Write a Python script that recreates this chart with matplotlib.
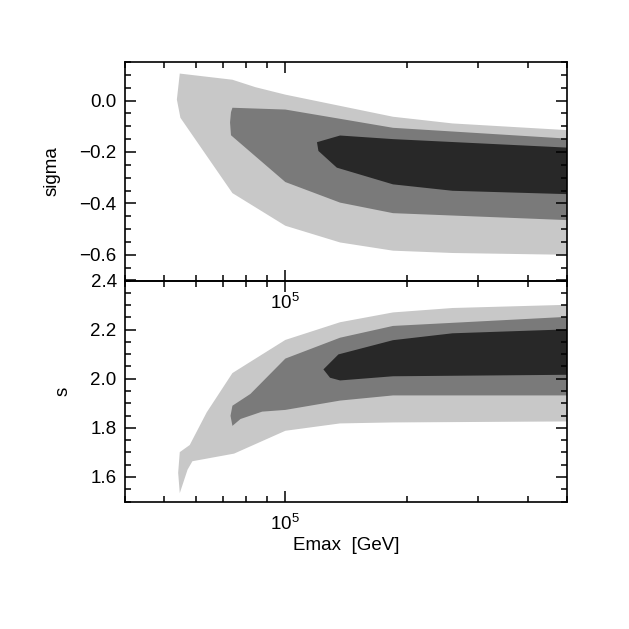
import matplotlib
matplotlib.use("Agg")
import matplotlib.pyplot as plt
from matplotlib.ticker import MultipleLocator, LogLocator, NullFormatter, FixedLocator, FixedFormatter

plt.rcParams['font.family'] = ['Liberation Sans', 'DejaVu Sans']
plt.rcParams['mathtext.fontset'] = 'custom'
plt.rcParams['mathtext.rm'] = 'Liberation Sans'
plt.rcParams['mathtext.it'] = 'Liberation Sans:italic'
plt.rcParams['mathtext.bf'] = 'Liberation Sans:bold'

# ---- data: contour polygons (Emax [GeV], value) ----
# top panel: sigma
sig_light_E = [54700, 73900, 84300, 100000, 185000, 260000, 500000,
               500000, 260000, 185000, 136700, 100000, 73900, 54900, 53800]
sig_light_v = [0.105, 0.081, 0.052, 0.023, -0.063, -0.089, -0.115,
               -0.600, -0.593, -0.584, -0.552, -0.487, -0.360, -0.067, 0.004]

sig_mid_E = [73900, 100000, 136700, 185000, 500000,
             500000, 185000, 136700, 100000, 73300, 72900, 73300]
sig_mid_v = [-0.028, -0.035, -0.071, -0.106, -0.148,
             -0.465, -0.438, -0.397, -0.317, -0.135, -0.085, -0.045]

sig_dark_E = [119800, 136700, 185000, 500000,
              500000, 260000, 185000, 134200, 120800]
sig_dark_v = [-0.162, -0.136, -0.150, -0.183,
              -0.364, -0.351, -0.326, -0.261, -0.196]

# bottom panel: s
s_light_E = [54700, 54200, 54700, 57900, 63800, 73900, 81900, 100000, 136700,
             185000, 260000, 500000, 500000, 185000, 136700, 100000, 74600,
             58800, 57200]
s_light_v = [1.534, 1.617, 1.701, 1.730, 1.863, 2.023, 2.069, 2.158, 2.230,
             2.270, 2.288, 2.301, 1.826, 1.822, 1.818, 1.788, 1.695,
             1.664, 1.630]

s_mid_E = [73900, 81900, 100000, 136700, 185000, 500000, 500000, 185000,
           136700, 100000, 87600, 77400, 73900, 73100]
s_mid_v = [1.890, 1.938, 2.082, 2.167, 2.215, 2.252, 1.932, 1.932,
           1.911, 1.873, 1.866, 1.836, 1.808, 1.849]

s_dark_E = [124300, 135400, 185000, 260000, 500000, 500000, 185000, 136700, 129100]
s_dark_v = [2.038, 2.099, 2.157, 2.185, 2.201, 2.016, 2.010, 1.993, 2.004]

colors = ['#c8c8c8', '#7a7a7a', '#282828']

xlim = (4.0e4, 5.0e5)
FS = 13.5

fig = plt.figure(figsize=(6.29, 6.29), dpi=100)
fig.patch.set_facecolor('white')

ax1 = fig.add_axes([125/629, 1-280.5/629, 442/629, 218.5/629])
ax2 = fig.add_axes([125/629, 1-501.5/629, 442/629, 221/629])
ax1.set_zorder(3)
ax1.patch.set_visible(False)

for ax, polys in [(ax1, [(sig_light_E, sig_light_v), (sig_mid_E, sig_mid_v), (sig_dark_E, sig_dark_v)]),
                  (ax2, [(s_light_E, s_light_v), (s_mid_E, s_mid_v), (s_dark_E, s_dark_v)])]:
    ax.set_xscale('log')
    for (E, v), c in zip(polys, colors):
        ax.fill(E, v, color=c, lw=0)
    ax.set_xlim(*xlim)
    ax.xaxis.set_major_locator(FixedLocator([1e5]))
    ax.xaxis.set_major_formatter(FixedFormatter([r'$10^5$']))
    ax.xaxis.set_minor_locator(LogLocator(base=10, subs=[2, 3, 4, 5, 6, 7, 8, 9]))
    ax.xaxis.set_minor_formatter(NullFormatter())
    ax.tick_params(which='both', direction='in', top=True, right=True,
                   labelsize=FS, width=1.1)
    ax.tick_params(axis='y', pad=6)
    ax.tick_params(axis='x', pad=9)
    ax.tick_params(which='major', length=8)
    ax.tick_params(which='minor', length=4.5)
    ax.tick_params(axis='x', which='minor', length=4)
    for sp in ax.spines.values():
        sp.set_linewidth(1.2)

ax1.set_ylim(-0.7, 0.15)
ax1.yaxis.set_major_locator(MultipleLocator(0.2))
ax1.yaxis.set_minor_locator(MultipleLocator(0.05))
ax1.yaxis.set_major_formatter(plt.FuncFormatter(lambda v, p: ('%.1f' % v).replace('-', '\u2212')))
ax1.set_ylabel('sigma', fontsize=FS)
ax1.yaxis.set_label_coords(-0.145, 0.5)

ax2.set_ylim(1.5, 2.4)
ax2.yaxis.set_major_locator(MultipleLocator(0.2))
ax2.yaxis.set_minor_locator(MultipleLocator(0.05))
ax2.yaxis.set_major_formatter(plt.FuncFormatter(lambda v, p: '%.1f' % v))
ax2.set_ylabel('s', fontsize=FS)
ax2.yaxis.set_label_coords(-0.122, 0.5)
ax2.set_xlabel('Emax  [GeV]', fontsize=FS, labelpad=2)

fig.savefig('out.png', dpi=100, facecolor='white')
